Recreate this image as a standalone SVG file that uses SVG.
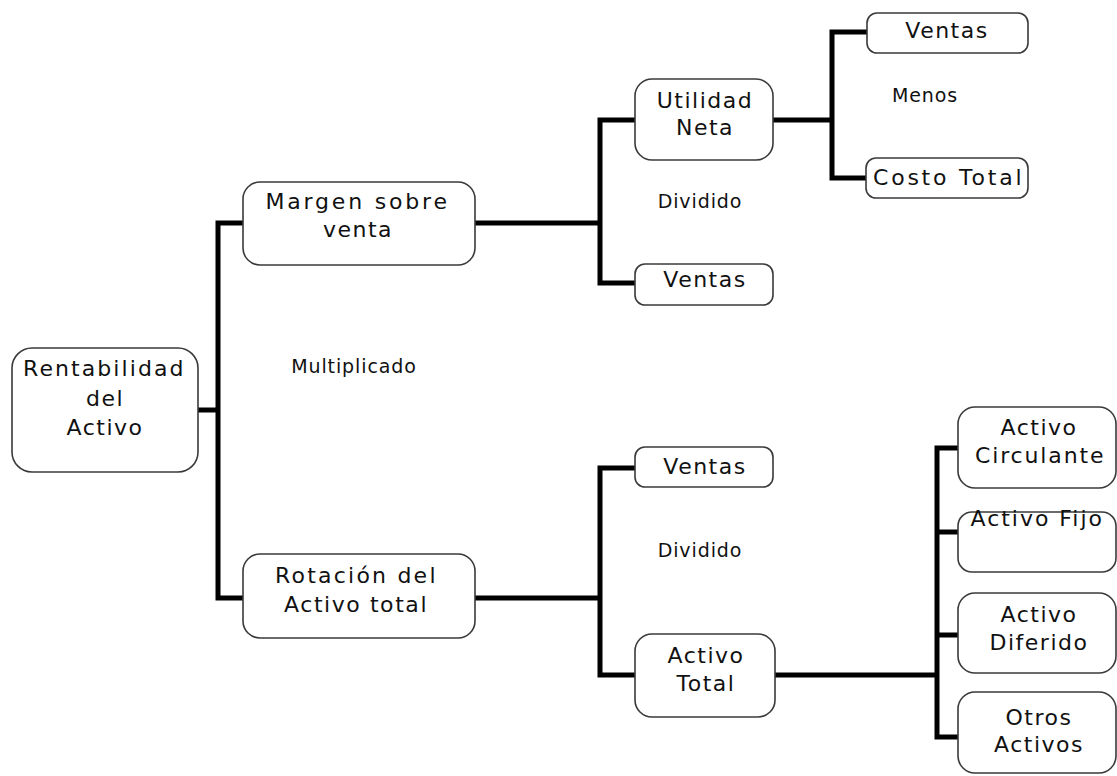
<svg xmlns="http://www.w3.org/2000/svg" width="1117" height="776" viewBox="0 0 1117 776">
<style>
.box{fill:#fff;stroke:#3a3a3a;stroke-width:1.6}
.t{font-family:"DejaVu Sans",Verdana,sans-serif;font-size:22px;letter-spacing:1.5px;fill:#111;text-anchor:middle}
.s{font-family:"DejaVu Sans",Verdana,sans-serif;font-size:19px;letter-spacing:0.9px;fill:#111;text-anchor:middle}
.c{fill:none;stroke:#000;stroke-width:5;stroke-linejoin:miter;stroke-linecap:butt}
</style>
<rect width="1117" height="776" fill="#fff"/>
<g id="connectors">
<path class="c" d="M198 410H218M243 223H218V598H243"/>
<path class="c" d="M475 223H600M635 120H600V283H635"/>
<path class="c" d="M773 120H832M867 32H832V178H867"/>
<path class="c" d="M475 598H600M635 468H600V675H635"/>
<path class="c" d="M775 675H937M958 448H937V737H958M937 532H958M937 635H958"/>
</g>
<g id="rentabilidad"><rect class="box" x="12" y="348" width="186" height="124" rx="20"/>
<text class="t" x="104" y="376" textLength="162" lengthAdjust="spacing">Rentabilidad</text><text class="t" x="105" y="406">del</text><text class="t" x="105" y="435">Activo</text></g>
<g id="margen"><rect class="box" x="243" y="182" width="232" height="83" rx="17"/>
<text class="t" x="357" y="209" textLength="183" lengthAdjust="spacing">Margen sobre</text><text class="t" x="358" y="237">venta</text></g>
<g id="rotacion"><rect class="box" x="243" y="554" width="232" height="84" rx="17"/>
<text class="t" x="356" y="583" textLength="162" lengthAdjust="spacing">Rotación del</text><text class="t" x="356" y="612" textLength="144" lengthAdjust="spacing">Activo total</text></g>
<g id="utilidad"><rect class="box" x="635" y="79" width="138" height="81" rx="17"/>
<text class="t" x="705" y="108">Utilidad</text><text class="t" x="705" y="135">Neta</text></g>
<g id="ventas1"><rect class="box" x="867" y="13" width="161" height="40" rx="10"/>
<text class="t" x="947" y="38">Ventas</text></g>
<g id="costo"><rect class="box" x="866" y="158" width="162" height="40" rx="10"/>
<text class="t" x="948" y="185" textLength="150" lengthAdjust="spacing">Costo Total</text></g>
<g id="ventas2"><rect class="box" x="635" y="264" width="138" height="41" rx="10"/>
<text class="t" x="705" y="287">Ventas</text></g>
<g id="ventas3"><rect class="box" x="635" y="447" width="138" height="40" rx="10"/>
<text class="t" x="705" y="474">Ventas</text></g>
<g id="activototal"><rect class="box" x="635" y="634" width="140" height="83" rx="17"/>
<text class="t" x="706" y="663">Activo</text><text class="t" x="706" y="691">Total</text></g>
<g id="circulante"><rect class="box" x="958" y="407" width="158" height="81" rx="17"/>
<text class="t" x="1039" y="435">Activo</text><text class="t" x="1040" y="463" textLength="130" lengthAdjust="spacing">Circulante</text></g>
<g id="fijo"><rect class="box" x="958" y="512" width="158" height="60" rx="14"/>
<text class="t" x="1037" y="526" textLength="133" lengthAdjust="spacing">Activo Fijo</text></g>
<g id="diferido"><rect class="box" x="958" y="593" width="158" height="80" rx="17"/>
<text class="t" x="1039" y="622">Activo</text><text class="t" x="1039" y="650">Diferido</text></g>
<g id="otros"><rect class="box" x="958" y="692" width="158" height="81" rx="17"/>
<text class="t" x="1039" y="725">Otros</text><text class="t" x="1039" y="752">Activos</text></g>
<g id="labels">
<text class="s" x="354" y="373">Multiplicado</text>
<text class="s" x="700" y="208">Dividido</text>
<text class="s" x="700" y="557">Dividido</text>
<text class="s" x="925" y="102">Menos</text>
</g>
</svg>
